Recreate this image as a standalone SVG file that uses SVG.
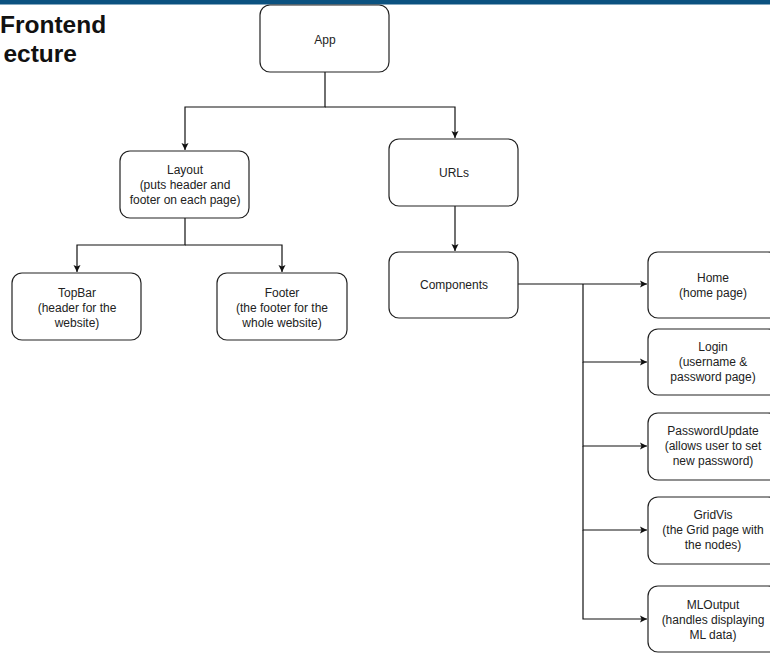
<svg xmlns="http://www.w3.org/2000/svg" width="770" height="653" viewBox="0 0 770 653">
<style>
.box{fill:#fff;stroke:#222;stroke-width:1.2}
.t{font-family:"Liberation Sans",Arial,sans-serif;font-size:12px;fill:#222;text-anchor:middle}
.title{font-family:"Liberation Sans",Arial,sans-serif;font-size:24.5px;font-weight:bold;fill:#111}
.c{fill:none;stroke:#111;stroke-width:1.2}
</style>
<defs>
<marker id="ah" markerWidth="8" markerHeight="8" refX="7" refY="4" orient="auto" markerUnits="userSpaceOnUse">
<path d="M0,0.5 L7,4 L0,7.5 L1.5,4 Z" fill="#111"/>
</marker>
</defs>
<rect x="0" y="0" width="770" height="653" fill="#fff"/>
<rect x="0" y="0" width="770" height="4.5" fill="#0b5280"/>
<g id="title">
<text class="title" x="0" y="33">Frontend</text>
<text class="title" x="77" y="62" text-anchor="end">ecture</text>
</g>
<g id="connectors">
<path class="c" d="M325 72 V107 H185 V150" marker-end="url(#ah)"/>
<path class="c" d="M325 107 H455 V138" marker-end="url(#ah)"/>
<path class="c" d="M185 218 V245 H77 V272" marker-end="url(#ah)"/>
<path class="c" d="M185 245 H282 V272" marker-end="url(#ah)"/>
<path class="c" d="M455 206 V251" marker-end="url(#ah)"/>
<path class="c" d="M518 284 H647" marker-end="url(#ah)"/>
<path class="c" d="M583 284 V362 H647" marker-end="url(#ah)"/>
<path class="c" d="M583 362 V446 H647" marker-end="url(#ah)"/>
<path class="c" d="M583 446 V530 H647" marker-end="url(#ah)"/>
<path class="c" d="M583 530 V619 H647" marker-end="url(#ah)"/>
</g>
<g id="app"><rect class="box" x="260" y="5" width="129" height="67" rx="10"/><text class="t" x="325" y="44">App</text></g>
<g id="layout"><rect class="box" x="120" y="151" width="129" height="67" rx="10"/>
<text class="t" x="185" y="174">Layout</text><text class="t" x="185" y="189">(puts header and</text><text class="t" x="185" y="204">footer on each page)</text></g>
<g id="urls"><rect class="box" x="389" y="139" width="129" height="67" rx="10"/><text class="t" x="454" y="177">URLs</text></g>
<g id="topbar"><rect class="box" x="12" y="273" width="129" height="67" rx="10"/>
<text class="t" x="77" y="297">TopBar</text><text class="t" x="77" y="312">(header for the</text><text class="t" x="77" y="327">website)</text></g>
<g id="footer"><rect class="box" x="217" y="273" width="130" height="67" rx="10"/>
<text class="t" x="282" y="297">Footer</text><text class="t" x="282" y="312">(the footer for the</text><text class="t" x="282" y="327">whole website)</text></g>
<g id="components"><rect class="box" x="389" y="252" width="129" height="66" rx="10"/><text class="t" x="454" y="289">Components</text></g>
<g id="home"><rect class="box" x="648" y="252" width="130" height="66" rx="10"/>
<text class="t" x="713" y="282">Home</text><text class="t" x="713" y="297">(home page)</text></g>
<g id="login"><rect class="box" x="648" y="329" width="130" height="66" rx="10"/>
<text class="t" x="713" y="351">Login</text><text class="t" x="713" y="366">(username &amp;</text><text class="t" x="713" y="381">password page)</text></g>
<g id="passwordupdate"><rect class="box" x="648" y="413" width="130" height="67" rx="10"/>
<text class="t" x="713" y="435">PasswordUpdate</text><text class="t" x="713" y="450">(allows user to set</text><text class="t" x="713" y="465">new password)</text></g>
<g id="gridvis"><rect class="box" x="648" y="497" width="130" height="67" rx="10"/>
<text class="t" x="713" y="519">GridVis</text><text class="t" x="713" y="534">(the Grid page with</text><text class="t" x="713" y="549">the nodes)</text></g>
<g id="mloutput"><rect class="box" x="648" y="586" width="130" height="66" rx="10"/>
<text class="t" x="713" y="609">MLOutput</text><text class="t" x="713" y="624">(handles displaying</text><text class="t" x="713" y="639">ML data)</text></g>
</svg>
